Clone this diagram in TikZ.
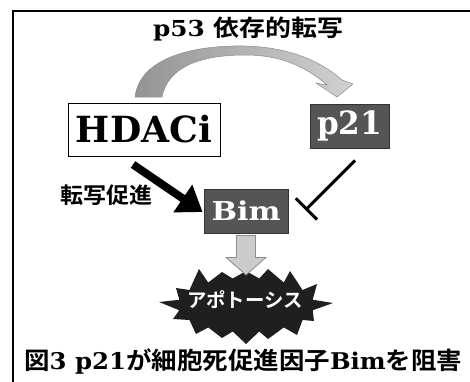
\documentclass[tikz,border=0pt]{standalone}
\usepackage{fontspec}
\usepackage{graphicx}
\newfontfamily\lat{DejaVu Serif}
\newfontfamily\cjk{Noto Sans CJK JP}[BoldFont={Noto Sans CJK JP Bold}]
\usetikzlibrary{arrows.meta,calc}
\definecolor{boxgray}{HTML}{555555}
\definecolor{arrowlight}{HTML}{CCCCCC}
\newcommand{\fitw}[2]{\resizebox{#1}{\height}{#2}}
\begin{document}
\begin{tikzpicture}[x=1pt,y=-1pt,
  whitebox/.style={draw=black,line width=1pt,fill=white,inner sep=0pt},
  darkbox/.style={draw=black!80,line width=0.8pt,fill=boxgray,text=white,inner sep=0pt},
  lbl/.style={inner sep=0pt,text=black}]
\useasboundingbox (0,0) rectangle (470,381);
\clip (0,0) rectangle (470,381);
% frame
\draw[line width=1.6pt] (13,400) -- (13,11) -- (480,11);

% title
\node[lbl] (title) at (248,29) {\fitw{190pt}{\lat\bfseries\fontsize{22}{22}\selectfont p53 \cjk\bfseries\fontsize{23}{23}\selectfont 依存的転写}};

% curved grey arrow
\draw[draw=black!45,line width=0.5pt,left color=black!42,right color=black!18]
  (135,97) .. controls (140,55) and (200,45) .. (245,46)
  .. controls (290,47) and (322,62) .. (342,80)
  -- (353,84) -- (337,97) -- (316,83) -- (327,85)
  .. controls (305,66) and (280,55) .. (245,55)
  .. controls (202,55) and (168,66) .. (162,97) -- cycle;

% boxes
\node[whitebox,minimum width=152pt,minimum height=53pt] (hdaci) at (144,129.5)
  {\fitw{136pt}{\lat\bfseries\fontsize{36}{36}\selectfont HDACi}};
\node[darkbox,minimum width=79pt,minimum height=44pt] (p21) at (349.5,126)
  {\fitw{65pt}{\lat\bfseries\fontsize{32}{32}\selectfont p21}};
\node[darkbox,minimum width=84pt,minimum height=44pt] (bim) at (246,211)
  {\fitw{69pt}{\lat\bfseries\fontsize{26}{26}\selectfont Bim}};

% label
\node[lbl] (tensha) at (106,195) {\fitw{92pt}{\cjk\bfseries\fontsize{22}{22}\selectfont 転写促進}};

% HDACi -> Bim
\draw[line width=8pt,-{Triangle[length=24pt,width=32pt]}]
  ($(hdaci.south)+(-11,8)$) -- ($(bim.west)+(-1,1)$);
% p21 --| Bim
\draw[line width=3pt,-{Bar[width=30pt]}]
  ($(p21.south)+(5.5,12)$) -- ($(bim.east)+(17,-1)$);

% starburst
\coordinate (sb) at (246,305);
\fill[black!88]
  (333,303)
  -- ($(sb)+({68*cos(11.25)},{27*sin(11.25)})$) -- (314,321)
  -- ($(sb)+({68*cos(33.75)},{27*sin(33.75)})$) -- (297,335)
  -- ($(sb)+({68*cos(56.25)},{27*sin(56.25)})$) -- (268,339)
  -- ($(sb)+({68*cos(78.75)},{27*sin(78.75)})$) -- (246,344)
  -- ($(sb)+({68*cos(101.25)},{27*sin(101.25)})$) -- (222,338)
  -- ($(sb)+({68*cos(123.75)},{27*sin(123.75)})$) -- (196,334)
  -- ($(sb)+({68*cos(146.25)},{27*sin(146.25)})$) -- (173,319)
  -- ($(sb)+({68*cos(168.75)},{27*sin(168.75)})$) -- (159,302)
  -- ($(sb)+({68*cos(191.25)},{27*sin(191.25)})$) -- (176,288)
  -- ($(sb)+({68*cos(213.75)},{27*sin(213.75)})$) -- (199,269)
  -- ($(sb)+({68*cos(236.25)},{27*sin(236.25)})$) -- (222,272)
  -- ($(sb)+({68*cos(258.75)},{27*sin(258.75)})$) -- (246,271)
  -- ($(sb)+({68*cos(281.25)},{27*sin(281.25)})$) -- (268,269)
  -- ($(sb)+({68*cos(303.75)},{27*sin(303.75)})$) -- (290,271)
  -- ($(sb)+({68*cos(326.25)},{27*sin(326.25)})$) -- (317,284)
  -- ($(sb)+({68*cos(348.75)},{27*sin(348.75)})$) -- cycle;
\node[lbl,text=white] (apop) at (245,300)
  {\fitw{116pt}{\cjk\bfseries\fontsize{19.5}{19.5}\selectfont アポトーシス}};

% Bim -> apoptosis block arrow
\coordinate (tip) at (246,275);
\draw[draw=black!45,line width=0.8pt,fill=arrowlight]
  ($(bim.south)+(-9.5,2)$) -- ($(bim.south)+(9.5,2)$) -- ($(bim.south)+(9.5,24)$)
  -- ($(bim.south)+(20,24)$) -- (tip) -- ($(bim.south)+(-20,24)$)
  -- ($(bim.south)+(-9.5,24)$) -- cycle;

% caption
\node[lbl,anchor=base west] (cap) at (24,369)
  {\fitw{438pt}{\cjk\bfseries\fontsize{24}{24}\selectfont 図\lat\bfseries\fontsize{23}{23}\selectfont 3 p21\cjk\bfseries\fontsize{24}{24}\selectfont が細胞死促進因子\lat\bfseries\fontsize{23}{23}\selectfont Bim\cjk\bfseries\fontsize{24}{24}\selectfont を阻害}};
\end{tikzpicture}
\end{document}
